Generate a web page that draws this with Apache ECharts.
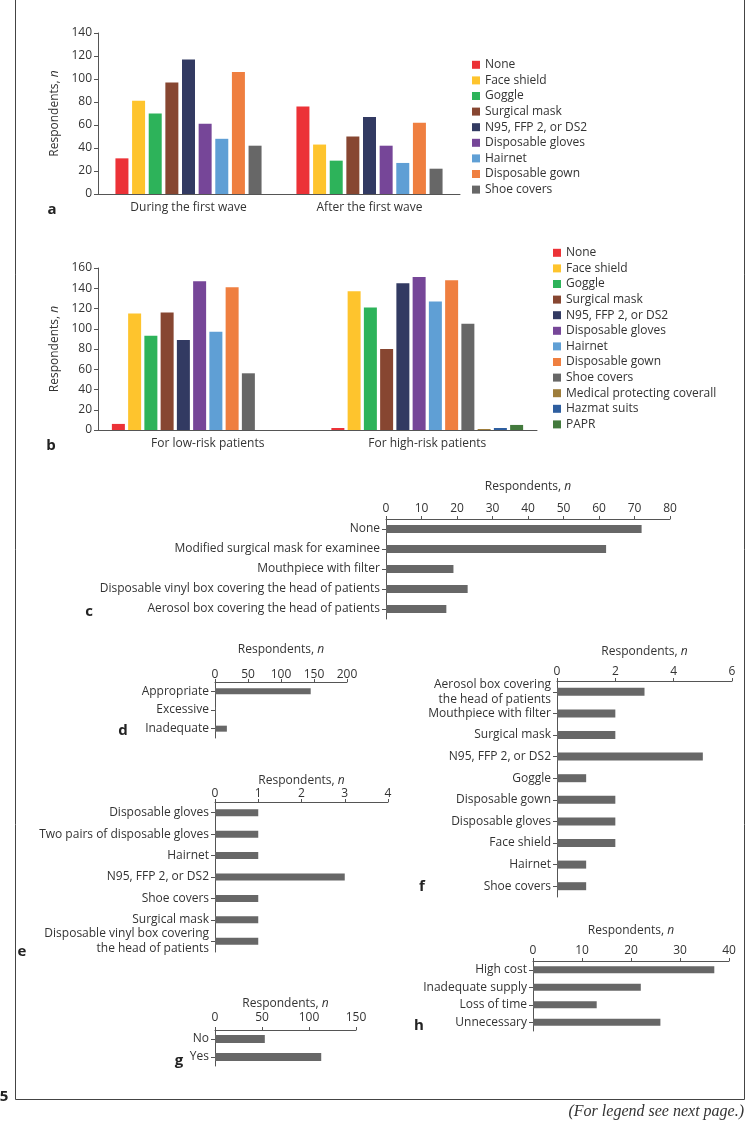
<!DOCTYPE html>
<html>
<head>
<meta charset="utf-8">
<script src="https://cdn.jsdelivr.net/npm/echarts@6/dist/echarts.min.js"></script>
<style>
html,body{margin:0;padding:0;background:#fff;}
#chart{width:750px;height:1125px;}
</style>
</head>
<body>
<div id="chart"></div>
<script>
// ---------- DATA ----------
const ppeA = ['None','Face shield','Goggle','Surgical mask','N95, FFP 2, or DS2','Disposable gloves','Hairnet','Disposable gown','Shoe covers'];
const waveCats = ['During the first wave','After the first wave'];
const duringWave = [31,81,70,97,117,61,48,106,42];
const afterWave  = [76,43,29,50,67,42,27,62,22];

const ppeB = ['None','Face shield','Goggle','Surgical mask','N95, FFP 2, or DS2','Disposable gloves','Hairnet','Disposable gown','Shoe covers','Medical protecting coverall','Hazmat suits','PAPR'];
const riskCats = ['For low-risk patients','For high-risk patients'];
const lowRisk  = [6,115,93,116,89,147,97,141,56,0,0,0];
const highRisk = [2,137,121,80,145,151,127,148,105,1,2,5];

const cCats = ['None','Modified surgical mask for examinee','Mouthpiece with filter','Disposable vinyl box covering the head of patients','Aerosol box covering the head of patients'];
const cVals = [72,62,19,23,17];

const dCats = ['Appropriate','Excessive','Inadequate'];
const dVals = [145,1,18];

const eCats = ['Disposable gloves','Two pairs of disposable gloves','Hairnet','N95, FFP 2, or DS2','Shoe covers','Surgical mask','Disposable vinyl box covering\nthe head of patients'];
const eVals = [1,1,1,3,1,1,1];

const fCats = ['Aerosol box covering\nthe head of patients','Mouthpiece with filter','Surgical mask','N95, FFP 2, or DS2','Goggle','Disposable gown','Disposable gloves','Face shield','Hairnet','Shoe covers'];
const fVals = [3,2,2,5,1,2,2,2,1,1];

const gCats = ['No','Yes'];
const gVals = [53,113];

const hCats = ['High cost','Inadequate supply','Loss of time','Unnecessary'];
const hVals = [37,22,13,26];

const ppeColors = ['#ec3237','#fec42d','#2db35a','#874631','#323a62','#764698','#5f9fd5','#ef7f40','#676767','#9e7d3b','#2e5e9f','#437a3d'];

// ---------- STYLE HELPERS ----------
const FONT = 'Open Sans';
const TXT = '#333333';
const AX = '#555555';
const BARGRAY = '#676767';
const axisNameStyle = {fontSize:12,color:TXT,fontFamily:FONT,rich:{i:{fontStyle:'italic',fontSize:12,color:TXT,fontFamily:FONT}}};
const NAME = 'Respondents, {i|n}';

const grids = [
  {left:98, top:33, width:362, height:161},   // a
  {left:98, top:268, width:439, height:162},  // b
  {left:386, top:519, width:284, height:100}, // c
  {left:215, top:682, width:132, height:56},  // d
  {left:215, top:802, width:173, height:150}, // e
  {left:557, top:681, width:175, height:216}, // f
  {left:215, top:1030, width:141, height:36}, // g
  {left:533, top:961, width:196, height:70}   // h
];

function catX(data, gi){
  return {type:'category', gridIndex:gi, data:data,
    axisLine:{lineStyle:{color:AX,width:1}},
    axisTick:{alignWithLabel:true,length:5,lineStyle:{color:AX}},
    axisLabel:{color:TXT,fontSize:12,fontFamily:FONT,margin:8,interval:0,hideOverlap:false}};
}
function valY(max, interval, gi){
  return {type:'value', gridIndex:gi, min:0, max:max, interval:interval,
    name:NAME, nameLocation:'middle', nameGap:37, nameTextStyle:axisNameStyle, nameMoveOverlap:false,
    splitLine:{show:false},
    axisLine:{show:true,lineStyle:{color:AX,width:1}},
    axisTick:{show:true,length:4,lineStyle:{color:AX}},
    axisLabel:{color:TXT,fontSize:12,fontFamily:FONT,margin:6,hideOverlap:false,showMinLabel:true,showMaxLabel:true}};
}
function topX(max, interval, gi, gap, margin){
  return {type:'value', gridIndex:gi, position:'top', min:0, max:max, interval:interval,
    name:NAME, nameLocation:'middle', nameGap:gap, nameTextStyle:axisNameStyle, nameMoveOverlap:false,
    splitLine:{show:false},
    axisLine:{show:true,lineStyle:{color:AX,width:1}},
    axisTick:{show:true,length:3,lineStyle:{color:AX}},
    axisLabel:{color:TXT,fontSize:12,fontFamily:FONT,margin:margin,hideOverlap:false,showMinLabel:true,showMaxLabel:true}};
}
function catY(data, gi){
  return {type:'category', gridIndex:gi, data:data, inverse:true,
    axisLine:{show:true,lineStyle:{color:AX,width:1}},
    axisTick:{show:true,alignWithLabel:true,length:4,lineStyle:{color:AX}},
    axisLabel:{color:TXT,fontSize:12,fontFamily:FONT,margin:6,lineHeight:15,align:'right',
      interval:0,hideOverlap:false,showMinLabel:true,showMaxLabel:true}};
}

const xAxes = [
  catX(waveCats,0),
  catX(riskCats,1),
  topX(80,10,2,26,4),
  topX(200,50,3,26,1),
  topX(4,1,4,15,2),
  topX(6,2,5,23,3),
  topX(150,50,6,20,6),
  topX(40,10,7,24,4)
];
const yAxes = [
  valY(140,20,0),
  valY(160,20,1),
  catY(cCats,2),
  catY(dCats,3),
  catY(eCats,4),
  catY(fCats,5),
  catY(gCats,6),
  catY(hCats,7)
];

const series = [];
ppeA.forEach((n,i)=>{
  series.push({type:'bar', name:n, xAxisIndex:0, yAxisIndex:0, data:[duringWave[i],afterWave[i]],
    barWidth:13, barGap:'28%', itemStyle:{color:ppeColors[i]}, silent:true});
});
ppeB.forEach((n,i)=>{
  series.push({type:'bar', name:n, xAxisIndex:1, yAxisIndex:1, data:[lowRisk[i],highRisk[i]],
    barWidth:13, barGap:'25%', itemStyle:{color:ppeColors[i]}, silent:true});
});
const hb = [[cVals,8],[dVals,6],[eVals,7],[fVals,8],[gVals,8],[hVals,7]];
hb.forEach((p,k)=>{
  series.push({type:'bar', name:'h'+k, xAxisIndex:k+2, yAxisIndex:k+2, data:p[0],
    barWidth:p[1], itemStyle:{color:BARGRAY}, silent:true});
});

function letter(t,x,y){
  return {type:'text', x:x, y:y, style:{text:t, font:'bold 15px "Open Sans"', fill:'#222', align:'center', verticalAlign:'middle'}};
}

const option = {
  animation:false,
  backgroundColor:'#ffffff',
  textStyle:{fontFamily:FONT},
  grid:grids,
  xAxis:xAxes,
  yAxis:yAxes,
  legend:[
    {data:ppeA, orient:'vertical', left:467, top:52, icon:'rect', itemWidth:8, itemHeight:8, itemGap:0,
     selectedMode:false, textStyle:{fontSize:12,color:TXT,fontFamily:FONT,lineHeight:15.6}},
    {data:ppeB, orient:'vertical', left:548, top:240, icon:'rect', itemWidth:8, itemHeight:8, itemGap:0,
     selectedMode:false, textStyle:{fontSize:12,color:TXT,fontFamily:FONT,lineHeight:15.6}}
  ],
  series:series,
  graphic:[
    {type:'line', shape:{x1:15.5,y1:0,x2:15.5,y2:1099.5}, style:{stroke:'#444',lineWidth:1}},
    {type:'line', shape:{x1:15.5,y1:1099.5,x2:744.5,y2:1099.5}, style:{stroke:'#444',lineWidth:1}},
    {type:'line', shape:{x1:744.5,y1:0,x2:744.5,y2:1099.5}, style:{stroke:'#444',lineWidth:1}},
    letter('a',52,210),
    letter('b',51,446),
    letter('c',89,612),
    letter('d',123,731),
    letter('e',22,952),
    letter('f',422,887),
    letter('g',179,1061),
    letter('h',419,1026),
    {type:'text', x:4, y:1097, style:{text:'5', font:'bold 15px "Open Sans"', fill:'#222', align:'center', verticalAlign:'middle'}},
    {type:'text', right:6, top:1104, style:{text:'(For legend see next page.)', font:'italic 16px "Liberation Serif"', fill:'#333'}}
  ]
};

const chart = echarts.init(document.getElementById('chart'), null, {renderer:'canvas'});
chart.setOption(option);
</script>
</body>
</html>
